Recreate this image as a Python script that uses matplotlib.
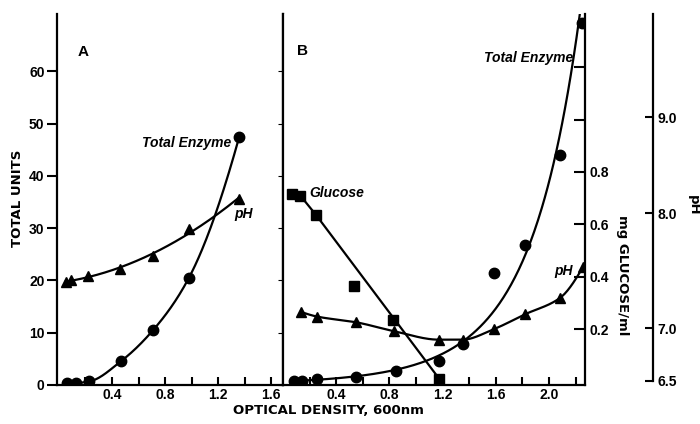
import numpy as np
import matplotlib
matplotlib.use("Agg")
import matplotlib.pyplot as plt

plt.rcParams['font.family'] = ['Liberation Sans', 'DejaVu Sans']
plt.rcParams['font.weight'] = 'bold'

# ---- data ----
# Panel A
od_a_enz = [0.06, 0.13, 0.23, 0.47, 0.71, 0.98, 1.36]
units_a_enz = [0.4, 0.4, 0.7, 4.6, 10.5, 20.5, 47.5]
od_a_ph = [0.05, 0.09, 0.22, 0.46, 0.71, 0.98, 1.36]
ph_a = [7.40, 7.42, 7.45, 7.51, 7.63, 7.86, 8.15]

# Panel B
od_b_enz = [0.085, 0.14, 0.255, 0.55, 0.85, 1.175, 1.35, 1.585, 1.82, 2.085, 2.25]
units_b_enz = [0.8, 0.8, 1.1, 1.6, 2.7, 4.5, 7.8, 21.4, 26.8, 44.0, 69.3]
od_b_ph = [0.135, 0.255, 0.55, 0.835, 1.17, 1.35, 1.585, 1.82, 2.08, 2.255]
ph_b = [7.14, 7.10, 7.05, 6.97, 6.89, 6.89, 6.99, 7.12, 7.26, 7.53]
od_b_glu = [0.07, 0.13, 0.25, 0.535, 0.825, 1.175]
glucose_b = [0.715, 0.71, 0.635, 0.365, 0.235, 0.01]
glucose_line_pts = [0, 1, 2, 5]   # points the drawn glucose line runs through

unit_ticks = [0, 10, 20, 30, 40, 50, 60]
glu_ticks = [0.2, 0.4, 0.6, 0.8]
ph_ticks = [6.5, 7.0, 8.0, 9.0]

# the pH axis in the original is not linear against the units axis
PH_CAL = [5.0, 6.5, 7.0, 8.0, 9.0, 11.0]
UNITS_CAL = [-29.5, 0.8, 10.9, 32.9, 51.2, 87.8]


def ph_fwd(p):
    return np.interp(p, PH_CAL, UNITS_CAL)


def ph_inv(u):
    return np.interp(u, UNITS_CAL, PH_CAL)


def pchip(x, y, xs):
    x = np.asarray(x, float)
    y = np.asarray(y, float)
    h = np.diff(x)
    d = np.diff(y) / h
    m = np.zeros_like(y)
    for k in range(1, len(x) - 1):
        if d[k - 1] * d[k] > 0:
            w1 = 2 * h[k] + h[k - 1]
            w2 = h[k] + 2 * h[k - 1]
            m[k] = (w1 + w2) / (w1 / d[k - 1] + w2 / d[k])
    m[0] = ((2 * h[0] + h[1]) * d[0] - h[0] * d[1]) / (h[0] + h[1])
    if np.sign(m[0]) != np.sign(d[0]):
        m[0] = 0
    m[-1] = ((2 * h[-1] + h[-2]) * d[-1] - h[-1] * d[-2]) / (h[-1] + h[-2])
    if np.sign(m[-1]) != np.sign(d[-1]):
        m[-1] = 0
    i = np.clip(np.searchsorted(x, xs) - 1, 0, len(x) - 2)
    t = (xs - x[i]) / h[i]
    return ((2 * t**3 - 3 * t**2 + 1) * y[i] + (t**3 - 2 * t**2 + t) * h[i] * m[i]
            + (-2 * t**3 + 3 * t**2) * y[i + 1] + (t**3 - t**2) * h[i] * m[i + 1])


LW = 1.6
YTOP = 71.0
TS = 10   # tick label size

fig = plt.figure(figsize=(7.0, 4.24), dpi=100)
axA = fig.add_axes([57 / 700, 39 / 424, 226 / 700, 371 / 424])
axB = fig.add_axes([283 / 700, 39 / 424, 302 / 700, 371 / 424], sharey=axA)

for ax in (axA, axB):
    ax.spines['top'].set_visible(False)
    for s in ax.spines.values():
        s.set_linewidth(1.6)
    ax.tick_params(axis='x', which='both', direction='in', length=6, width=1.5,
                   pad=2, labelsize=TS)
    ax.set_ylim(0, YTOP)

axA.set_xlim(-0.015, 1.69)
axB.set_xlim(0, 2.27)
axA.set_xticks([0.4, 0.8, 1.2, 1.6])
axA.set_xticks([0.2, 0.6, 1.0, 1.4], minor=True)
axB.set_xticks([0.4, 0.8, 1.2, 1.6, 2.0])
axB.set_xticks([0.2, 0.6, 1.0, 1.4, 1.8, 2.2], minor=True)
axA.set_yticks(unit_ticks)
axA.tick_params(axis='y', direction='out', length=7, width=1.5, pad=2, labelsize=TS)
axB.tick_params(axis='y', left=False, labelleft=False)
axB.spines['right'].set_visible(False)
for ax in (axA, axB):
    for lab in ax.get_xticklabels() + ax.get_yticklabels():
        lab.set_fontweight('bold')

# ---- panel A ----
xs = np.linspace(od_a_enz[0], od_a_enz[-1], 200)
axA.plot(xs, pchip(od_a_enz, units_a_enz, xs), color='black', lw=LW)
axA.plot(od_a_enz, units_a_enz, 'o', color='black', ms=7.5)

phA = axA.twinx()
phA.set_yscale('function', functions=(ph_fwd, ph_inv))
phA.set_ylim(ph_inv(0), ph_inv(YTOP))
phA.axis('off')
ua = ph_fwd(np.array(ph_a))
ca = np.polyfit(od_a_ph, ua, 2)
xs = np.linspace(od_a_ph[0], od_a_ph[-1], 200)
phA.plot(xs, ph_inv(np.polyval(ca, xs)), color='black', lw=LW)
phA.plot(od_a_ph, ph_a, '^', color='black', ms=7)

# ---- panel B ----
xs = np.linspace(od_b_enz[0], od_b_enz[-1], 300)
cb = np.polyfit(od_b_enz, np.log(units_b_enz), 2)
axB.plot(xs, np.exp(np.polyval(cb, xs)), color='black', lw=LW)
axB.plot(od_b_enz, units_b_enz, 'o', color='black', ms=7.5)

phB = axB.twinx()
phB.set_yscale('function', functions=(ph_fwd, ph_inv))
phB.set_ylim(ph_inv(0), ph_inv(YTOP))
for s in ('left', 'top', 'bottom'):
    phB.spines[s].set_visible(False)
phB.spines['right'].set_position(('axes', 1.225))
phB.spines['right'].set_bounds(6.5, ph_inv(YTOP))
phB.spines['right'].set_linewidth(1.6)
phB.set_yticks(ph_ticks)
phB.set_yticklabels(['%.1f' % v for v in ph_ticks])
phB.yaxis.set_minor_locator(matplotlib.ticker.NullLocator())
phB.tick_params(axis='y', direction='in', length=6, width=1.5, pad=3, labelsize=TS)
ub = ph_fwd(np.array(ph_b))
xs = np.linspace(od_b_ph[0], od_b_ph[-1], 200)
phB.plot(xs, ph_inv(pchip(od_b_ph, ub, xs)), color='black', lw=LW)
phB.plot(od_b_ph, ph_b, '^', color='black', ms=7)

gl = axB.twinx()
for s in ('left', 'top', 'bottom'):
    gl.spines[s].set_visible(False)
gl.spines['right'].set_linewidth(1.6)
gl.set_ylim(-0.013, 1.403)
gl.set_yticks(glu_ticks)
gl.set_yticks([1.0, 1.2], minor=True)
gl.tick_params(axis='y', which='both', direction='in', length=8, width=1.5,
               pad=3, labelsize=TS)
gl.plot([od_b_glu[i] for i in glucose_line_pts],
        [glucose_b[i] for i in glucose_line_pts], color='black', lw=LW)
gl.plot(od_b_glu, glucose_b, 's', color='black', ms=6.5)

for ax in (phB, gl):
    for lab in ax.get_yticklabels():
        lab.set_fontweight('bold')

# ---- annotations ----
ann = dict(style='italic', weight='bold', size=10)
axA.text(0.14, 63.7, 'A', ha='left', va='center', size=11, weight='bold')
axB.text(0.107, 64.0, 'B', ha='left', va='center', size=11, weight='bold')
axA.text(1.30, 46.3, 'Total Enzyme', ha='right', va='center', **ann)
axA.text(1.32, 32.7, 'pH', ha='left', va='center', **ann)
axB.text(0.20, 36.8, 'Glucose', ha='left', va='center', **ann)
axB.text(2.18, 62.5, 'Total Enzyme', ha='right', va='center', **ann)
axB.text(2.18, 21.8, 'pH', ha='right', va='center', **ann)

lab = dict(family=['DejaVu Sans'], weight='bold', size=9.5, ha='center', va='center')
fig.text(18 / 700, 1 - 198 / 424, 'TOTAL UNITS', rotation=90, **lab)
fig.text(328 / 700, 1 - 410 / 424, 'OPTICAL DENSITY, 600nm', **lab)
fig.text(623 / 700, 1 - 275 / 424, 'mg GLUCOSE/ml', rotation=270, **lab)
fig.text(693 / 700, 1 - 205 / 424, 'pH', rotation=270, **lab)

fig.savefig('out.png', dpi=100)
